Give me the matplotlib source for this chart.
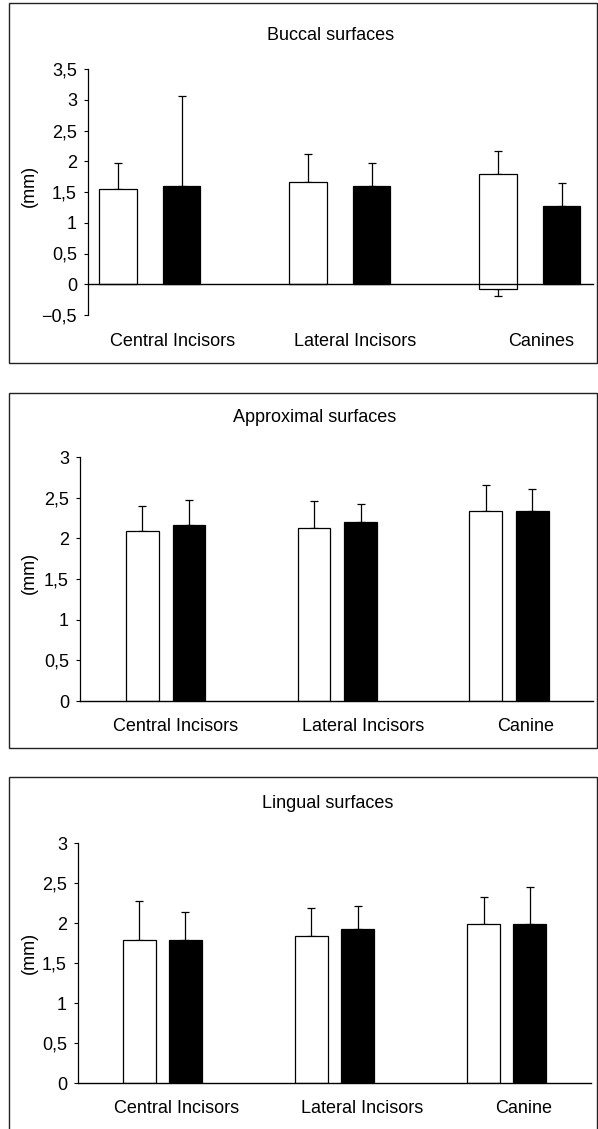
import numpy as np
import matplotlib.pyplot as plt
from matplotlib.patches import Rectangle

# Three panels: white bars = first group, black bars = second group, upward SD bars.

plt.rcParams['font.family'] = ['Liberation Sans', 'DejaVu Sans']

categories_a = ["Central Incisors", "Lateral Incisors", "Canines"]
categories_b = ["Central Incisors", "Lateral Incisors", "Canine"]

# Buccal surfaces
buccal_white = [1.55, 1.66, 1.79]
buccal_white_err = [0.42, 0.45, 0.37]
buccal_white_base = [0, 0, -0.07]
buccal_white_low_err = [0, 0, 0.12]
buccal_black = [1.60, 1.60, 1.28]
buccal_black_err = [1.46, 0.37, 0.36]

# Approximal surfaces
approx_white = [2.09, 2.13, 2.34]
approx_white_err = [0.31, 0.33, 0.31]
approx_black = [2.16, 2.20, 2.33]
approx_black_err = [0.31, 0.22, 0.28]

# Lingual surfaces
lingual_white = [1.79, 1.84, 1.99]
lingual_white_err = [0.48, 0.35, 0.33]
lingual_black = [1.79, 1.93, 1.99]
lingual_black_err = [0.35, 0.28, 0.46]

W, H = 598, 1129
fig = plt.figure(figsize=(W / 100, H / 100), dpi=100)


def px_axes(left, right, top, bottom):
    return fig.add_axes([left / W, 1 - bottom / H, (right - left) / W, (bottom - top) / H])


def frame(top, bottom):
    fig.add_artist(Rectangle((9 / W, 1 - bottom / H), (597 - 9) / W, (bottom - top) / H,
                             transform=fig.transFigure, fill=False, ec='#222222', lw=1.0))


def fmt(v):
    s = f"{v:g}".replace('.', ',')
    return s.replace('-', '\u2212')


def panel(ax, white, white_err, black, black_err, cats, width, off, xlim, ylim, yticks,
          label_shift, pad, base=None, low_err=None):
    x = np.arange(len(cats))
    if base is None:
        base = [0] * len(white)
    heights = [w - b for w, b in zip(white, base)]
    ax.bar(x - off, heights, width, bottom=base, color='white', edgecolor='black', lw=0.9, zorder=2)
    ax.bar(x + off, black, width, color='black', edgecolor='black', lw=0.9, zorder=2)
    ax.errorbar(x - off, white, yerr=[[0] * len(white), white_err], fmt='none',
                ecolor='black', elinewidth=0.9, capsize=3, capthick=0.9, zorder=1)
    ax.errorbar(x + off, black, yerr=[[0] * len(black), black_err], fmt='none',
                ecolor='black', elinewidth=0.9, capsize=3, capthick=0.9, zorder=1)
    if low_err is not None:
        idx = [i for i, e in enumerate(low_err) if e > 0]
        ax.errorbar(x[idx] - off, [base[i] for i in idx], yerr=[[low_err[i] for i in idx], [0] * len(idx)],
                    fmt='none', ecolor='black', elinewidth=0.9, capsize=3, capthick=0.9, zorder=1)
    ax.axhline(0, color='black', lw=1.0, zorder=3, clip_on=False)
    ax.set_xlim(*xlim)
    ax.set_ylim(*ylim)
    ax.set_yticks(yticks)
    ax.set_yticklabels([fmt(v) for v in yticks], fontsize=13)
    ax.set_xticks(x + np.array(label_shift))
    ax.set_xticklabels(cats, fontsize=13)
    ax.tick_params(axis='x', length=0, pad=pad)
    ax.tick_params(axis='y', length=3, width=0.8, direction='out', pad=5)
    for s in ['top', 'right', 'bottom']:
        ax.spines[s].set_visible(False)
    ax.spines['left'].set_linewidth(0.9)


# Panel 1: buccal
frame(3, 363)
ax1 = px_axes(88, 593, 69, 315)
panel(ax1, buccal_white, buccal_white_err, buccal_black, buccal_black_err, categories_a,
      0.195, 0.168, (-0.326, 2.332), (-0.5, 3.5), np.arange(-0.5, 3.51, 0.5),
      [0.12, 0.08, 0.06], 13, base=buccal_white_base, low_err=buccal_white_low_err)
fig.text(331 / W, 1 - 35 / H, "Buccal surfaces", ha='center', va='center', fontsize=13)
fig.text(29 / W, 1 - 186 / H, "(mm)", ha='center', va='center', rotation=90, fontsize=13)

# Panel 2: approximal
frame(393, 748)
ax2 = px_axes(80, 593, 457, 701)
panel(ax2, approx_white, approx_white_err, approx_black, approx_black_err, categories_b,
      0.19, 0.136, (-0.499, 2.49), (0, 3), np.arange(0, 3.01, 0.5),
      [0.06, 0.15, 0.1], 12)
fig.text(315 / W, 1 - 418 / H, "Approximal surfaces", ha='center', va='center', fontsize=13)
fig.text(29 / W, 1 - 573 / H, "(mm)", ha='center', va='center', rotation=90, fontsize=13)

# Panel 3: lingual
frame(777, 1135)
ax3 = px_axes(78, 591, 843, 1083)
panel(ax3, lingual_white, lingual_white_err, lingual_black, lingual_black_err, categories_b,
      0.19, 0.134, (-0.49, 2.49), (0, 3), np.arange(0, 3.01, 0.5),
      [0.08, 0.16, 0.1], 12)
fig.text(328 / W, 1 - 803 / H, "Lingual surfaces", ha='center', va='center', fontsize=13)
fig.text(29 / W, 1 - 953 / H, "(mm)", ha='center', va='center', rotation=90, fontsize=13)

fig.savefig("out.png", dpi=100)
